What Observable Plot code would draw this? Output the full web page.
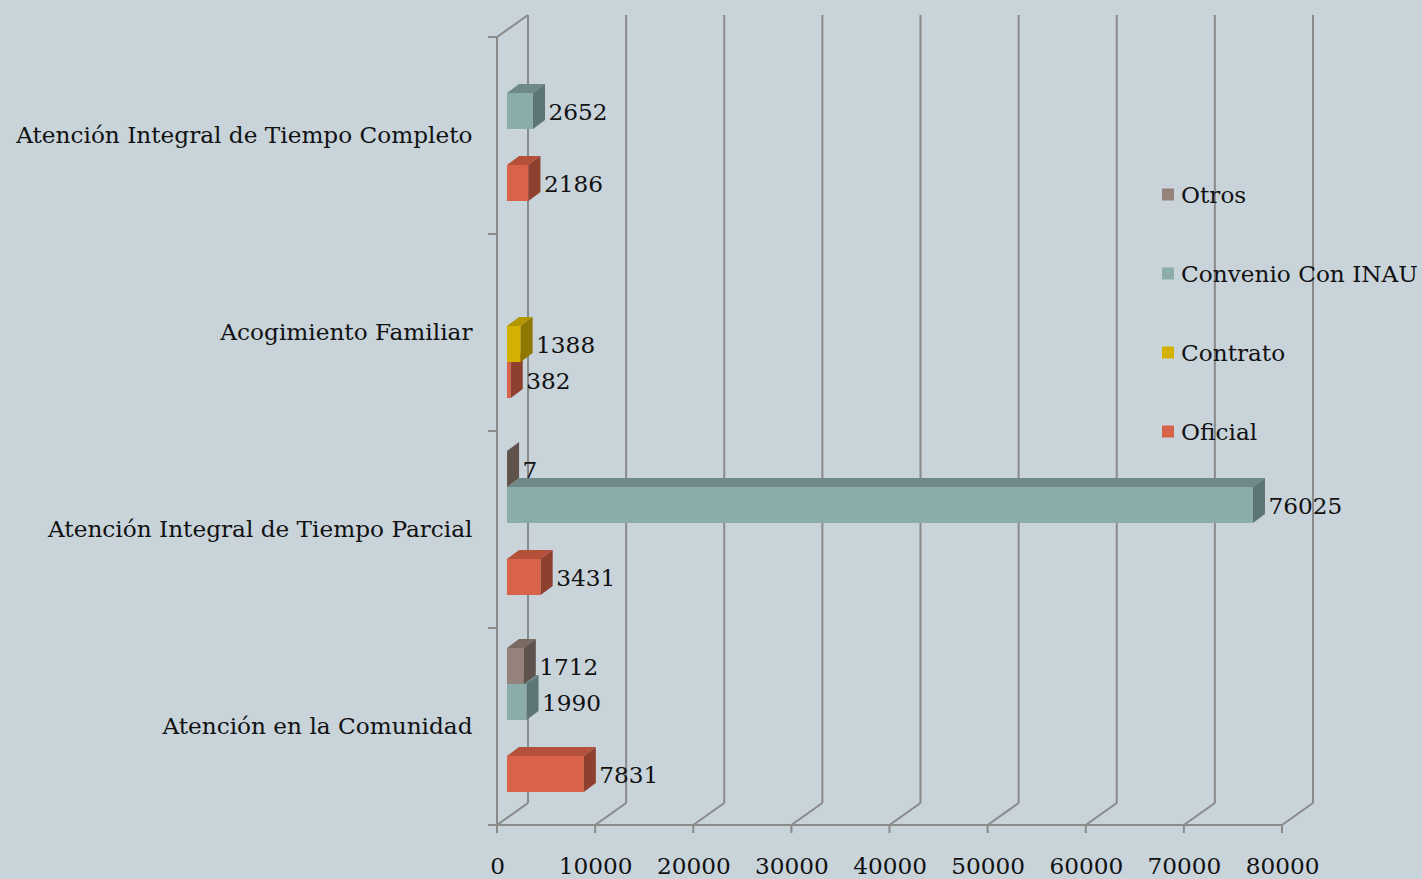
<!DOCTYPE html>
<html><head><meta charset="utf-8">
<script src="https://cdn.jsdelivr.net/npm/d3@7"></script>
<script src="https://cdn.jsdelivr.net/npm/@observablehq/plot@0.6"></script>
<style>
html,body{margin:0;padding:0;background:#c8d3da;overflow:hidden}
#wrap{position:relative;width:1422px;height:879px}
#legend{position:absolute;left:1162px;top:0;font-family:"DejaVu Serif";font-size:23.2px;color:#111}
.item{position:absolute;left:0;display:flex;align-items:center;white-space:nowrap;transform:translateY(-50%)}
.sw{width:12px;height:12px;margin-right:7px;flex:none}
</style></head><body>
<div id="wrap"><div id="chart"></div><div id="legend"></div></div>
<script>
const categories = ["Atención Integral de Tiempo Completo", "Acogimiento Familiar", "Atención Integral de Tiempo Parcial", "Atención en la Comunidad"];
const seriesNames = ["Otros", "Convenio Con INAU", "Contrato", "Oficial"];
const oficial  = [2186, 382, 3431, 7831];
const contrato = [null, 1388, null, null];
const convenio = [2652, null, 76025, 1990];
const otros    = [null, null, 7, 1712];
const xTicks = [0, 10000, 20000, 30000, 40000, 50000, 60000, 70000, 80000];

const frontColor = {"Oficial": "#d9624a", "Contrato": "#d4b100", "Convenio Con INAU": "#8aacab", "Otros": "#95827a"};
const topColor   = {"Oficial": "#b5503b", "Contrato": "#b39500", "Convenio Con INAU": "#6e8987", "Otros": "#7b6861"};
const sideColor  = {"Oficial": "#8e3f2e", "Contrato": "#8f7800", "Convenio Con INAU": "#5d7574", "Otros": "#5f514b"};
const GRID = "#8a8a8a";

const bySeries = {"Oficial": oficial, "Contrato": contrato, "Convenio Con INAU": convenio, "Otros": otros};
const rows = [];
categories.forEach((c, i) => {
  for (const s of seriesNames) {
    const v = bySeries[s][i];
    if (v != null) rows.push({category: c, series: s, value: v});
  }
});

// 3D offsets (styling)
const BACK_X = 31, BACK_Y = -22;
const BAR_X = 10, DEP_X = 12, DEP_Y = -9;

function frame3d(index, scales, values, dims) {
  const x = scales.x;
  const top = dims.marginTop, bottom = dims.height - dims.marginBottom;
  const g = d3.create("svg:g").attr("stroke", GRID).attr("stroke-width", 2).attr("fill", "none");
  const line = (x1, y1, x2, y2) => g.append("line").attr("x1", x1).attr("y1", y1).attr("x2", x2).attr("y2", y2);
  for (const t of xTicks) {
    const px = x(t);
    line(px + BACK_X, top + BACK_Y, px + BACK_X, bottom + BACK_Y);
    line(px, bottom, px + BACK_X, bottom + BACK_Y);
    line(px, bottom, px, bottom + 8);
  }
  const x0 = x(xTicks[0]), x1 = x(xTicks[xTicks.length - 1]);
  line(x0, top, x0 + BACK_X, top + BACK_Y);
  line(x0, bottom, x1, bottom);
  line(x0, top, x0, bottom);
  const n = categories.length;
  for (let k = 0; k <= n; ++k) {
    const y = top + k * (bottom - top) / n;
    line(x0 - 9, y, x0, y);
  }
  return g.node();
}

function cuboids(index, scales, values) {
  const g = d3.create("svg:g");
  const bw = scales.y.bandwidth();
  const order = Array.from(index).sort((a, b) => values.y[b] - values.y[a]);
  for (const i of order) {
    const s = rows[i].series;
    const xa = Math.min(values.x1[i], values.x2[i]) + BAR_X;
    const xb = Math.max(values.x1[i], values.x2[i]) + BAR_X;
    const yt = values.y[i], yb = yt + bw;
    g.append("rect").attr("x", xa).attr("y", yt).attr("width", xb - xa).attr("height", bw).attr("fill", frontColor[s]);
    g.append("polygon").attr("points", [[xa, yt], [xb, yt], [xb + DEP_X, yt + DEP_Y], [xa + DEP_X, yt + DEP_Y]].map(p => p.join(",")).join(" ")).attr("fill", topColor[s]);
    g.append("polygon").attr("points", [[xb, yt], [xb + DEP_X, yt + DEP_Y], [xb + DEP_X, yb + DEP_Y], [xb, yb]].map(p => p.join(",")).join(" ")).attr("fill", sideColor[s]);
  }
  return g.node();
}

const plot = Plot.plot({
  width: 1422, height: 879,
  marginLeft: 497, marginRight: 140, marginTop: 37, marginBottom: 54,
  style: {background: "transparent", fontFamily: "DejaVu Serif", fontSize: "23.2px", color: "#111", overflow: "visible"},
  x: {domain: [0, 80000], label: null},
  y: {domain: seriesNames, axis: null, padding: 0, insetTop: 19.5, insetBottom: 33.5},
  fy: {domain: categories, padding: 0, label: null},
  marks: [
    Plot.frame({facet: "super", stroke: "none", render: frame3d}),
    Plot.barX(rows, {x: "value", y: "series", fy: "category", render: cuboids}),
    Plot.text(rows, {x: "value", y: "series", fy: "category", text: d => String(d.value), textAnchor: "start", dx: 25, dy: 1, fill: "#111"}),
    Plot.axisX(xTicks, {tickSize: 0, tickPadding: 32, tickFormat: d => String(d), label: null}),
    Plot.axisFy({anchor: "left", tickSize: 0, tickPadding: 25, label: null})
  ]
});
document.getElementById("chart").appendChild(plot);

const legendY = {"Otros": 194, "Convenio Con INAU": 273, "Contrato": 352, "Oficial": 431};
const legend = document.getElementById("legend");
for (const s of seriesNames) {
  const item = document.createElement("div");
  item.className = "item";
  item.style.top = legendY[s] + "px";
  const sw = document.createElement("span");
  sw.className = "sw";
  sw.style.background = frontColor[s];
  const tx = document.createElement("span");
  tx.textContent = s;
  item.appendChild(sw); item.appendChild(tx);
  legend.appendChild(item);
}
</script>
</body></html>
